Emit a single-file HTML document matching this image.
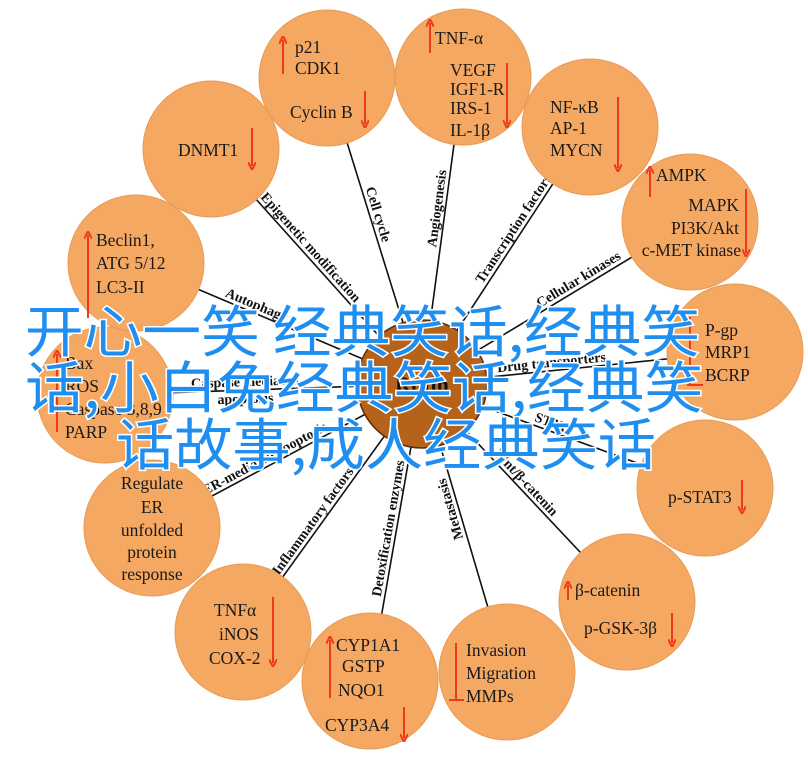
<!DOCTYPE html>
<html><head><meta charset="utf-8"><style>
html,body{margin:0;padding:0;background:#fff;}
svg{display:block;}
.c{fill:#F5A862;stroke:#E89A55;stroke-width:1;}
.t{font-family:"Liberation Serif",serif;font-size:17.5px;fill:#1a1a1a;}
.l{font-family:"Liberation Serif",serif;font-size:14px;font-weight:bold;fill:#111;text-anchor:middle;}
.ar{stroke:#EE3A1A;stroke-width:2;fill:none;}
.cn{font-family:"Noto Sans CJK SC","WenQuanYi Zen Hei",sans-serif;font-size:56px;fill:#1F8EF1;stroke:#fff;stroke-width:3;paint-order:stroke;}
</style></head><body>
<svg width="808" height="760" viewBox="0 0 808 760" xmlns="http://www.w3.org/2000/svg">
<defs>
<marker id="ah" markerWidth="8" markerHeight="8" refX="4" refY="4" orient="auto" markerUnits="userSpaceOnUse"><path d="M0,0 L8,4 L0,8" fill="none" stroke="#EE3A1A" stroke-width="2"/></marker>
</defs>
<g stroke="#111" stroke-width="1.6">
<line x1="422" y1="384" x2="211" y2="149"/>
<line x1="422" y1="384" x2="327" y2="78"/>
<line x1="422" y1="384" x2="463" y2="77"/>
<line x1="422" y1="384" x2="590" y2="127"/>
<line x1="422" y1="384" x2="690" y2="222"/>
<line x1="422" y1="384" x2="735" y2="352"/>
<line x1="422" y1="384" x2="705" y2="488"/>
<line x1="422" y1="384" x2="627" y2="602"/>
<line x1="422" y1="384" x2="507" y2="672"/>
<line x1="422" y1="384" x2="370" y2="681"/>
<line x1="422" y1="384" x2="243" y2="632"/>
<line x1="422" y1="384" x2="152" y2="528"/>
<line x1="422" y1="384" x2="105" y2="395"/>
<line x1="422" y1="384" x2="136" y2="263"/>
</g>
<g>
<text class="l" transform="translate(422,384) rotate(48.1)" x="-176" y="-4">Epigenetic modification</text>
<text class="l" transform="translate(422,384) rotate(72.8)" x="-175" y="-4">Cell cycle</text>
<text class="l" transform="translate(422,384) rotate(-82.4)" x="176" y="-4">Angiogenesis</text>
<text class="l" transform="translate(422,384) rotate(-56.8)" x="180" y="-4">Transcription factors</text>
<text class="l" transform="translate(422,384) rotate(-31.2)" x="188" y="-4">Cellular kinases</text>
<text class="l" transform="translate(422,384) rotate(-5.8)" x="131" y="-4">Drug transporters</text>
<text class="l" transform="translate(422,384) rotate(20.2)" x="135" y="-4">STAT</text>
<text class="l" transform="translate(422,384) rotate(46.8)" x="143" y="-4">Wnt/β-catenin</text>
<text class="l" transform="translate(422,384) rotate(-106.4)" x="-128" y="-4">Metastasis</text>
<text class="l" transform="translate(422,384) rotate(-80.1)" x="-148" y="-4">Detoxification enzymes</text>
<text class="l" transform="translate(422,384) rotate(-54.2)" x="-175" y="-4">Inflammatory factors</text>
<text class="l" transform="translate(422,384) rotate(-28.1)" x="-174" y="-4">ER-mediated apoptosis</text>
<text class="l" transform="translate(422,384) rotate(-2)" x="-177" y="-4">Caspase mediated</text>
<text class="l" transform="translate(422,384) rotate(-2)" x="-177" y="13">apoptosis</text>
<text class="l" transform="translate(422,384) rotate(22.9)" x="-183" y="-4">Autophagy</text>
</g>
<g>
<circle class="c" cx="211" cy="149" r="68"/>
<circle class="c" cx="327" cy="78" r="68"/>
<circle class="c" cx="463" cy="77" r="68"/>
<circle class="c" cx="590" cy="127" r="68"/>
<circle class="c" cx="690" cy="222" r="68"/>
<circle class="c" cx="735" cy="352" r="68"/>
<circle class="c" cx="705" cy="488" r="68"/>
<circle class="c" cx="627" cy="602" r="68"/>
<circle class="c" cx="507" cy="672" r="68"/>
<circle class="c" cx="370" cy="681" r="68"/>
<circle class="c" cx="243" cy="632" r="68"/>
<circle class="c" cx="152" cy="528" r="68"/>
<circle class="c" cx="105" cy="395" r="68"/>
<circle class="c" cx="136" cy="263" r="68"/>
</g>
<ellipse cx="422" cy="384" rx="65" ry="64" fill="#B5621A" stroke="#5a2d08" stroke-width="1.5"/>
<text x="422" y="392" text-anchor="middle" font-family="Liberation Serif,serif" font-weight="bold" font-size="22" fill="#111">Rutin</text>
<g class="t">
<text x="295" y="53">p21</text><text x="295" y="74">CDK1</text><text x="290" y="118">Cyclin B</text>
<text x="435" y="44">TNF-α</text><text x="450" y="76">VEGF</text><text x="450" y="95">IGF1-R</text><text x="450" y="114">IRS-1</text><text x="450" y="136">IL-1β</text>
<text x="178" y="156">DNMT1</text>
<text x="550" y="113">NF-κB</text><text x="550" y="134">AP-1</text><text x="550" y="156">MYCN</text>
<text x="656" y="181">AMPK</text>
<text x="739" y="211" text-anchor="end">MAPK</text><text x="739" y="234" text-anchor="end">PI3K/Akt</text><text x="741" y="256" text-anchor="end">c-MET kinase</text>
<text x="96" y="246">Beclin1,</text><text x="96" y="269">ATG 5/12</text><text x="96" y="293">LC3-II</text>
<text x="65" y="369">Bax</text><text x="65" y="392">ROS</text><text x="65" y="415">Caspase 3,8,9</text><text x="65" y="438">PARP</text>
<g text-anchor="middle"><text x="152" y="489">Regulate</text><text x="152" y="513">ER</text><text x="152" y="536">unfolded</text><text x="152" y="558">protein</text><text x="152" y="580">response</text></g>
<text x="705" y="336">P-gp</text><text x="705" y="358">MRP1</text><text x="705" y="381">BCRP</text>
<text x="668" y="503">p-STAT3</text>
<text x="575" y="596">β-catenin</text><text x="584" y="634">p-GSK-3β</text>
<text x="214" y="616">TNFα</text><text x="219" y="640">iNOS</text><text x="209" y="664">COX-2</text>
<text x="336" y="651">CYP1A1</text><text x="342" y="672">GSTP</text><text x="338" y="696">NQO1</text><text x="325" y="731">CYP3A4</text>
<text x="466" y="656">Invasion</text><text x="466" y="679">Migration</text><text x="466" y="702">MMPs</text>
</g>
<g class="ar">
<line x1="283" y1="74" x2="283" y2="40" marker-end="url(#ah)"/>
<line x1="365" y1="91" x2="365" y2="124" marker-end="url(#ah)"/>
<line x1="430" y1="53" x2="430" y2="23" marker-end="url(#ah)"/>
<line x1="507" y1="63" x2="507" y2="124" marker-end="url(#ah)"/>
<line x1="252" y1="128" x2="252" y2="166" marker-end="url(#ah)"/>
<line x1="618" y1="97" x2="618" y2="168" marker-end="url(#ah)"/>
<line x1="650" y1="197" x2="650" y2="170" marker-end="url(#ah)"/>
<line x1="746" y1="189" x2="746" y2="253" marker-end="url(#ah)"/>
<line x1="88" y1="318" x2="88" y2="235" marker-end="url(#ah)"/>
<line x1="57" y1="432" x2="57" y2="354" marker-end="url(#ah)"/>
<line x1="742" y1="480" x2="742" y2="510" marker-end="url(#ah)"/>
<line x1="568" y1="600" x2="568" y2="585" marker-end="url(#ah)"/>
<line x1="672" y1="613" x2="672" y2="643" marker-end="url(#ah)"/>
<line x1="273" y1="597" x2="273" y2="663" marker-end="url(#ah)"/>
<line x1="330" y1="698" x2="330" y2="640" marker-end="url(#ah)"/>
<line x1="404" y1="707" x2="404" y2="738" marker-end="url(#ah)"/>
<path d="M690,317 L690,385 M687,385 L703,385"/>
<path d="M456,643 L456,700 M449,700 L464,700"/>
</g>
<text class="cn" x="25" y="352" textLength="675" lengthAdjust="spacingAndGlyphs">开心一笑 经典笑话,经典笑</text>
<text class="cn" x="25" y="408" textLength="678" lengthAdjust="spacingAndGlyphs">话,小白兔经典笑话,经典笑</text>
<text class="cn" x="116" y="465" textLength="540" lengthAdjust="spacingAndGlyphs">话故事,成人经典笑话</text>
</svg>
</body></html>
